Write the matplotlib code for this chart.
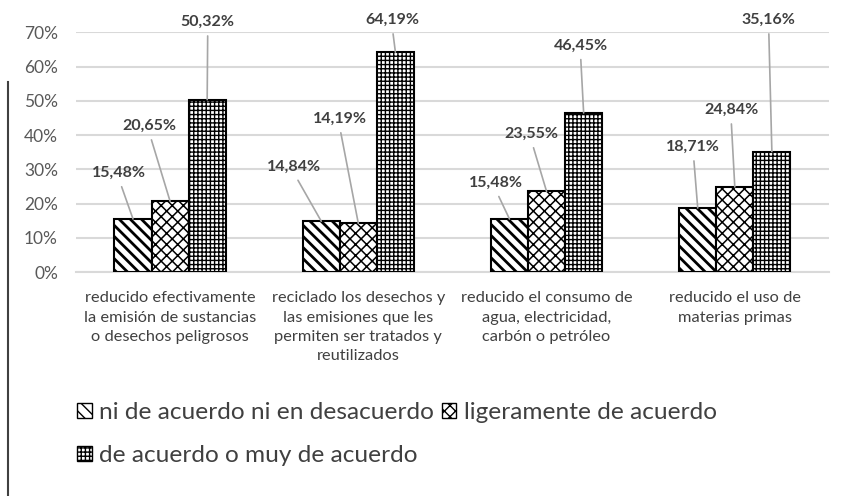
import matplotlib.pyplot as plt
import matplotlib as mpl
from matplotlib.patches import Patch
from matplotlib.lines import Line2D
import numpy as np

# chart data
categories = ['reducido efectivamente\nla emisión de sustancias\no desechos peligrosos',
              'reciclado los desechos y\nlas emisiones que les\npermiten ser tratados y\nreutilizados',
              'reducido el consumo de\nagua, electricidad,\ncarbón o petróleo',
              'reducido el uso de\nmaterias primas']
series_names = ['ni de acuerdo ni en desacuerdo',
                'ligeramente de acuerdo',
                'de acuerdo o muy de acuerdo']
neutral = [15.48, 14.84, 15.48, 18.71]
slightly = [20.65, 14.19, 23.55, 24.84]
agree = [50.32, 64.19, 46.45, 35.16]
tick_labels = ['0%', '10%', '20%', '30%', '40%', '50%', '60%', '70%']

# where the data labels sit (x in category units, y in %)
label_xy = [
    [(-0.27, 28.9), (-0.34, 30.7), (-0.27, 26.0), (-0.22, 36.5)],
    [(-0.11, 42.6), (-0.10, 44.7), (-0.08, 40.3), (-0.02, 47.3)],
    [(0.20, 73.0), (0.18, 73.6), (0.18, 66.1), (0.18, 73.6)],
]

plt.rcParams['font.family'] = ['Lato', 'DejaVu Sans']

fig = plt.figure(figsize=(8.46, 4.96), dpi=100)
ax = fig.add_axes([0.0898, 0.4516, 0.890, 0.4833])

x = np.arange(len(categories))
w = 0.197
hatches = ['\\\\\\', 'xxx', '++++']
hatch_lw = [2.0, 1.1, 1.0]
values = [neutral, slightly, agree]

for k in range(3):
    mpl.rcParams['hatch.linewidth'] = hatch_lw[k]
    ax.bar(x + (k - 1) * w, values[k], w, facecolor='white', edgecolor='black',
           hatch=hatches[k], linewidth=1.5, zorder=3)

for k in range(3):
    for i in range(len(categories)):
        bx = x[i] + (k - 1) * w
        lx, ly = label_xy[k][i]
        ax.annotate(f'{values[k][i]:.2f}%'.replace('.', ','),
                    xy=(bx, values[k][i]), xytext=(x[i] + lx, ly),
                    ha='center', va='center', fontsize=11.5, fontweight='bold',
                    color='#404040', zorder=4,
                    arrowprops=dict(arrowstyle='-', color='#a6a6a6', lw=1.2,
                                    relpos=(0.5, 0), shrinkA=3, shrinkB=0))

ax.set_xlim(-0.5, 3.5)
ax.set_ylim(0, 70)
ax.set_yticks(np.arange(0, 71, 10))
ax.set_yticklabels(tick_labels, fontsize=12.5, color='#595959')
ax.set_xticks(x)
ax.set_xticklabels(categories, fontsize=11.8, color='#404040', linespacing=1.47)
ax.tick_params(axis='both', length=0)
ax.tick_params(axis='y', pad=13)
ax.tick_params(axis='x', pad=14)
ax.grid(axis='y', color='#d9d9d9', linewidth=1.5, zorder=0)
ax.set_axisbelow(True)
for s in ['top', 'right', 'left']:
    ax.spines[s].set_visible(False)
ax.spines['bottom'].set_color('#d9d9d9')
ax.spines['bottom'].set_linewidth(1.5)

mpl.rcParams['hatch.linewidth'] = 1.0
handles = [Patch(facecolor='white', edgecolor='black', hatch=hatches[k], label=series_names[k])
           for k in range(3)]
order = [0, 2, 1]
leg = fig.legend([handles[i] for i in order], [series_names[i] for i in order],
                 loc='upper left', bbox_to_anchor=(0.077, 0.214), ncol=2,
                 frameon=False, fontsize=17.6, handlelength=0.6, handleheight=0.6,
                 handletextpad=0.3, columnspacing=0.3, labelspacing=0.9, borderpad=0)
for t in leg.get_texts():
    t.set_color('#404040')

fig.add_artist(Line2D([8 / 846, 8 / 846], [0, (496 - 82) / 496], transform=fig.transFigure,
                      color='#404040', lw=1.5))

fig.savefig('out.png', dpi=100)
